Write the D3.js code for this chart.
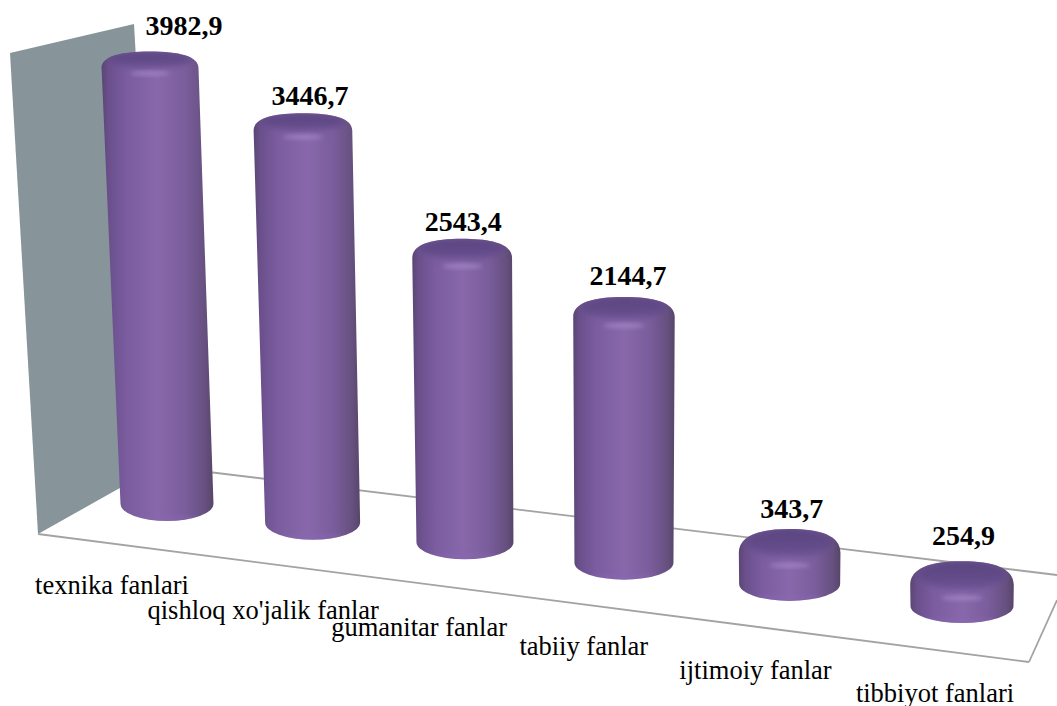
<!DOCTYPE html>
<html>
<head>
<meta charset="utf-8">
<style>
  html, body { margin: 0; padding: 0; background: #fff; overflow: hidden; }
  text { font-family: "Liberation Serif", "Times New Roman", serif; fill: #000; }
</style>
<script src="https://cdn.jsdelivr.net/npm/d3@7"></script>
</head>
<body>
<div id="chart"></div>
<script>
// Chart data
const categories = ["texnika fanlari", "qishloq xo'jalik fanlar", "gumanitar fanlar", "tabiiy fanlar", "ijtimoiy fanlar", "tibbiyot fanlari"]
const values = [3982.9, 3446.7, 2543.4, 2144.7, 343.7, 254.9]

const width = 1057, height = 706

// Small per-label offsets, the labels were moved by hand in the original
const valueLabelDx = [34, 7, 1, 4, 2, 1.5]
const valueLabelGap = [16, 8, 8, 12, 11, 16]
const categoryLabelDx = [0, 0, -2, -2, -1.5, 0]
const categoryLabelDy = [0, 3, -1, -4, -1, 0]

const svg = d3.select("#chart").append("svg")
    .attr("width", width)
    .attr("height", height)
    .style("display", "block")

const defs = svg.append("defs")

// Perspective of the floor: position along the front-to-back axis
const xLinear = d3.scaleLinear().domain([0, 5]).range([167, 878.5])
const xBow = d3.scalePow().exponent(2).domain([0, 5]).range([0, 83.5])
const xBase = i => xLinear(i) + xBow(i)
const yBase = d3.scaleLinear().domain([167, 962]).range([521, 623])
const barWidth = d3.scaleLinear().domain([0, 5]).range([93, 103])

// Value axis, with a small depth correction by position
const yValue = d3.scaleLinear().domain([0, 4000]).range([33, 485])
const depth = d3.scaleLinear().domain([0, 1, 2, 3, 4, 5]).range([0.97, 1.01, 1, 1.03, 1, 1])
const capRy = d3.scaleLinear().domain([0, 470]).range([19, 10.5])

const vanishX = 560
const leanK = 9.2e-5

const bars = categories.map(function (name, i) {
    const h = yValue(values[i] * depth(i))
    const x0 = xBase(i)
    const y0 = yBase(x0)
    const w = barWidth(i)
    return {
        name: name,
        value: values[i],
        i: i,
        h: h,
        x0: x0,
        y0: y0,
        w: w,
        // only the left bars lean outward, the right ones stand nearly straight
        x1: x0 + Math.min(0, x0 - vanishX) * h * leanK,
        y1: y0 - h,
        w1: w * (1 + h * 0.00009),
        ry: capRy(h)
    }
})

// Gradients
const side = defs.append("linearGradient").attr("id", "side")
const sideStops = [[0, "#5a4673"], [0.06, "#6a4f8b"], [0.22, "#7a5c9f"], [0.5, "#8868aa"], [0.75, "#7a5d9c"], [0.93, "#66507f"], [1, "#574568"]]
side.selectAll("stop").data(sideStops).join("stop")
    .attr("offset", d => d[0])
    .attr("stop-color", d => d[1])

const capFill = defs.append("linearGradient").attr("id", "cap").attr("x1", 0).attr("x2", 0).attr("y1", 0).attr("y2", 1)
capFill.selectAll("stop").data([[0, "#5b4580"], [0.6, "#624b88"], [1, "#6f5496"]]).join("stop")
    .attr("offset", d => d[0])
    .attr("stop-color", d => d[1])

const blur = size => {
    const f = defs.append("filter").attr("id", "blur" + size)
        .attr("x", "-30%").attr("y", "-60%").attr("width", "160%").attr("height", "220%")
    f.append("feGaussianBlur").attr("stdDeviation", size)
}
blur(2)
blur(3)

// Wall
const line = d3.line()
svg.append("path")
    .attr("d", line([[10, 53], [134, 24], [159, 466], [38, 534]]) + "Z")
    .attr("fill", "#87959a")

// Floor outline
const floorLines = [
    [[38, 534], [1029, 662]],
    [[1029, 662], [1057, 600]],
    [[159, 466], [1057, 575]]
]
svg.selectAll(".floor")
    .data(floorLines)
    .join("path")
    .attr("class", "floor")
    .attr("d", d => line(d))
    .attr("fill", "none")
    .attr("stroke", "#a3a3a3")
    .attr("stroke-width", 1.8)

// Cylinders
function outline(d) {
    const lb = d.x0 - d.w / 2, rb = d.x0 + d.w / 2
    const lt = d.x1 - d.w1 / 2, rt = d.x1 + d.w1 / 2
    const ybody = d.y1 + d.ry + 2
    const ryb = 17
    return `M${lb},${d.y0 - ryb}`
        + `L${lt},${ybody + 4}`
        + `C${lt},${ybody - d.ry * 0.75} ${lt + d.w1 * 0.2},${d.y1} ${d.x1},${d.y1}`
        + `C${rt - d.w1 * 0.2},${d.y1} ${rt},${ybody - d.ry * 0.75} ${rt},${ybody + 4}`
        + `L${rb},${d.y0 - ryb}`
        + `A${d.w / 2},${ryb} 0 0 1 ${lb},${d.y0 - ryb}Z`
}

const cyl = svg.selectAll(".cyl")
    .data(bars)
    .join("g")
    .attr("class", "cyl")

cyl.append("clipPath")
    .attr("id", d => "clip" + d.i)
    .append("path")
    .attr("d", outline)

cyl.append("path")
    .attr("d", outline)
    .attr("fill", "url(#side)")

const inner = cyl.append("g").attr("clip-path", d => `url(#clip${d.i})`)

// darker top face
inner.append("ellipse")
    .attr("cx", d => d.x1)
    .attr("cy", d => d.y1 + d.ry * 0.75)
    .attr("rx", d => d.w1 * 0.43)
    .attr("ry", d => d.ry * 0.85)
    .attr("fill", "url(#cap)")
    .attr("filter", "url(#blur3)")

// light on the front of the rounded edge
inner.append("ellipse")
    .attr("cx", d => d.x1)
    .attr("cy", d => d.y1 + d.ry * 2 + 1)
    .attr("rx", d => d.w1 * 0.2)
    .attr("ry", 2)
    .attr("fill", "#a084c4")
    .attr("filter", "url(#blur2)")

// lighter foot at the front
inner.append("ellipse")
    .attr("cx", d => d.x0)
    .attr("cy", d => d.y0 - 3)
    .attr("rx", d => d.w * 0.34)
    .attr("ry", 3)
    .attr("fill", "#8a68b4")
    .attr("opacity", 0.5)
    .attr("filter", "url(#blur2)")

// Value labels
svg.selectAll(".value")
    .data(bars)
    .join("text")
    .attr("class", "value")
    .attr("x", d => d.x1 + valueLabelDx[d.i])
    .attr("y", d => d.y1 - valueLabelGap[d.i])
    .attr("text-anchor", "middle")
    .style("font-size", "28px")
    .style("font-weight", "bold")
    .text(d => d.value.toFixed(1).replace(".", ","))

// Category labels
const labelDx = d3.scaleLinear().domain([0, 5]).range([-55, -27])
const labelY = d3.scaleLinear().domain([0, 5]).range([594, 702])
svg.selectAll(".cat")
    .data(bars)
    .join("text")
    .attr("class", "cat")
    .attr("x", d => d.x0 + labelDx(d.i) + categoryLabelDx[d.i])
    .attr("y", d => labelY(d.i) + categoryLabelDy[d.i])
    .attr("text-anchor", "middle")
    .style("font-size", "26.5px")
    .text(d => d.name)
</script>
</body>
</html>
